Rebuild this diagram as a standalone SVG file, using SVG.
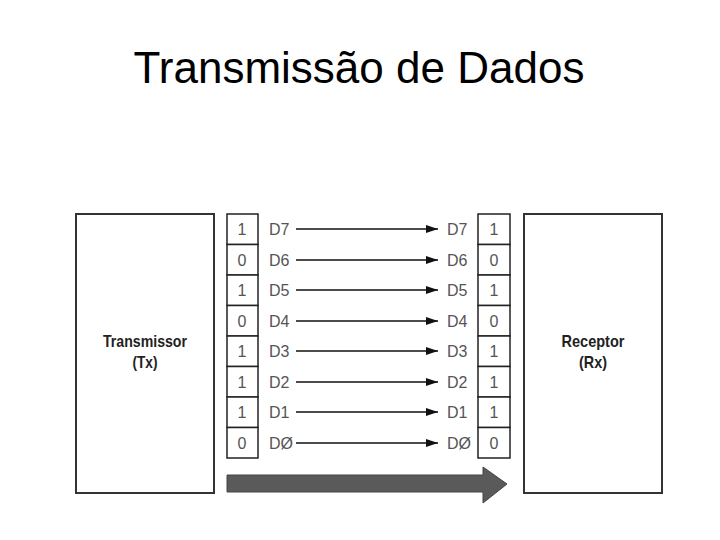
<svg xmlns="http://www.w3.org/2000/svg" width="720" height="540" viewBox="0 0 720 540">
<defs>
<marker id="ah" viewBox="0 0 12 8" refX="12" refY="4" markerWidth="12" markerHeight="8" markerUnits="userSpaceOnUse" orient="auto">
<path d="M0,0 L12,4 L0,8 z" fill="#111"/>
</marker>
</defs>
<style>
.box{fill:#fff;stroke:#333;stroke-width:2}
.cell{fill:#fff;stroke:#222;stroke-width:1.5}
.bit{font-family:"Liberation Sans",Arial,sans-serif;font-size:16px;fill:#555;text-anchor:middle}
.sig{font-family:"Liberation Sans",Arial,sans-serif;font-size:16px;fill:#555}
.nl{font-family:"Liberation Sans",Arial,sans-serif;font-size:17px;font-weight:bold;fill:#222;text-anchor:middle}
.title{font-family:"Liberation Sans",Arial,sans-serif;font-size:44px;fill:#000;text-anchor:middle}
.wire{stroke:#111;stroke-width:1.3;fill:none}
</style>
<rect width="720" height="540" fill="#fff"/>
<text class="title" x="359" y="83">Transmissão de Dados</text>

<g id="transmissor">
<rect class="box" x="76" y="214" width="138" height="279"/>
<text class="nl" x="145" y="347" textLength="84" lengthAdjust="spacingAndGlyphs">Transmissor</text>
<text class="nl" x="145" y="368" textLength="25" lengthAdjust="spacingAndGlyphs">(Tx)</text>
</g>

<g id="receptor">
<rect class="box" x="524" y="214" width="138" height="279"/>
<text class="nl" x="593" y="347" textLength="63" lengthAdjust="spacingAndGlyphs">Receptor</text>
<text class="nl" x="593" y="368" textLength="28" lengthAdjust="spacingAndGlyphs">(Rx)</text>
</g>

<g id="reg-tx">
<rect class="cell" x="227" y="214" width="31" height="30.5"/>
<rect class="cell" x="227" y="244.5" width="31" height="30.5"/>
<rect class="cell" x="227" y="275" width="31" height="30.5"/>
<rect class="cell" x="227" y="305.5" width="31" height="30.5"/>
<rect class="cell" x="227" y="336" width="31" height="30.5"/>
<rect class="cell" x="227" y="366.5" width="31" height="30.5"/>
<rect class="cell" x="227" y="397" width="31" height="30.5"/>
<rect class="cell" x="227" y="427.5" width="31" height="30.5"/>
<text class="bit" x="242" y="235">1</text>
<text class="bit" x="242" y="266">0</text>
<text class="bit" x="242" y="296">1</text>
<text class="bit" x="242" y="327">0</text>
<text class="bit" x="242" y="357">1</text>
<text class="bit" x="242" y="388">1</text>
<text class="bit" x="242" y="418">1</text>
<text class="bit" x="242" y="449">0</text>
</g>

<g id="reg-rx">
<rect class="cell" x="478" y="214" width="32" height="30.5"/>
<rect class="cell" x="478" y="244.5" width="32" height="30.5"/>
<rect class="cell" x="478" y="275" width="32" height="30.5"/>
<rect class="cell" x="478" y="305.5" width="32" height="30.5"/>
<rect class="cell" x="478" y="336" width="32" height="30.5"/>
<rect class="cell" x="478" y="366.5" width="32" height="30.5"/>
<rect class="cell" x="478" y="397" width="32" height="30.5"/>
<rect class="cell" x="478" y="427.5" width="32" height="30.5"/>
<text class="bit" x="494" y="235">1</text>
<text class="bit" x="494" y="266">0</text>
<text class="bit" x="494" y="296">1</text>
<text class="bit" x="494" y="327">0</text>
<text class="bit" x="494" y="357">1</text>
<text class="bit" x="494" y="388">1</text>
<text class="bit" x="494" y="418">1</text>
<text class="bit" x="494" y="449">0</text>
</g>

<g id="labels-tx">
<text class="sig" x="269" y="235">D7</text>
<text class="sig" x="269" y="266">D6</text>
<text class="sig" x="269" y="296">D5</text>
<text class="sig" x="269" y="327">D4</text>
<text class="sig" x="269" y="357">D3</text>
<text class="sig" x="269" y="388">D2</text>
<text class="sig" x="269" y="418">D1</text>
<text class="sig" x="269" y="449">DØ</text>
</g>

<g id="labels-rx">
<text class="sig" x="447" y="235">D7</text>
<text class="sig" x="447" y="266">D6</text>
<text class="sig" x="447" y="296">D5</text>
<text class="sig" x="447" y="327">D4</text>
<text class="sig" x="447" y="357">D3</text>
<text class="sig" x="447" y="388">D2</text>
<text class="sig" x="447" y="418">D1</text>
<text class="sig" x="447" y="449">DØ</text>
</g>

<g id="connectors">
<line class="wire" x1="296" y1="229" x2="438" y2="229" marker-end="url(#ah)"/>
<line class="wire" x1="296" y1="260" x2="438" y2="260" marker-end="url(#ah)"/>
<line class="wire" x1="296" y1="290" x2="438" y2="290" marker-end="url(#ah)"/>
<line class="wire" x1="296" y1="321" x2="438" y2="321" marker-end="url(#ah)"/>
<line class="wire" x1="296" y1="351" x2="438" y2="351" marker-end="url(#ah)"/>
<line class="wire" x1="296" y1="382" x2="438" y2="382" marker-end="url(#ah)"/>
<line class="wire" x1="296" y1="412" x2="438" y2="412" marker-end="url(#ah)"/>
<line class="wire" x1="296" y1="443" x2="438" y2="443" marker-end="url(#ah)"/>
<path id="flow" d="M227,475 L483,475 L483,467 L507,484 L483,503 L483,492 L227,492 Z" fill="#5a5a5a" stroke="#444" stroke-width="1"/>
</g>
</svg>
